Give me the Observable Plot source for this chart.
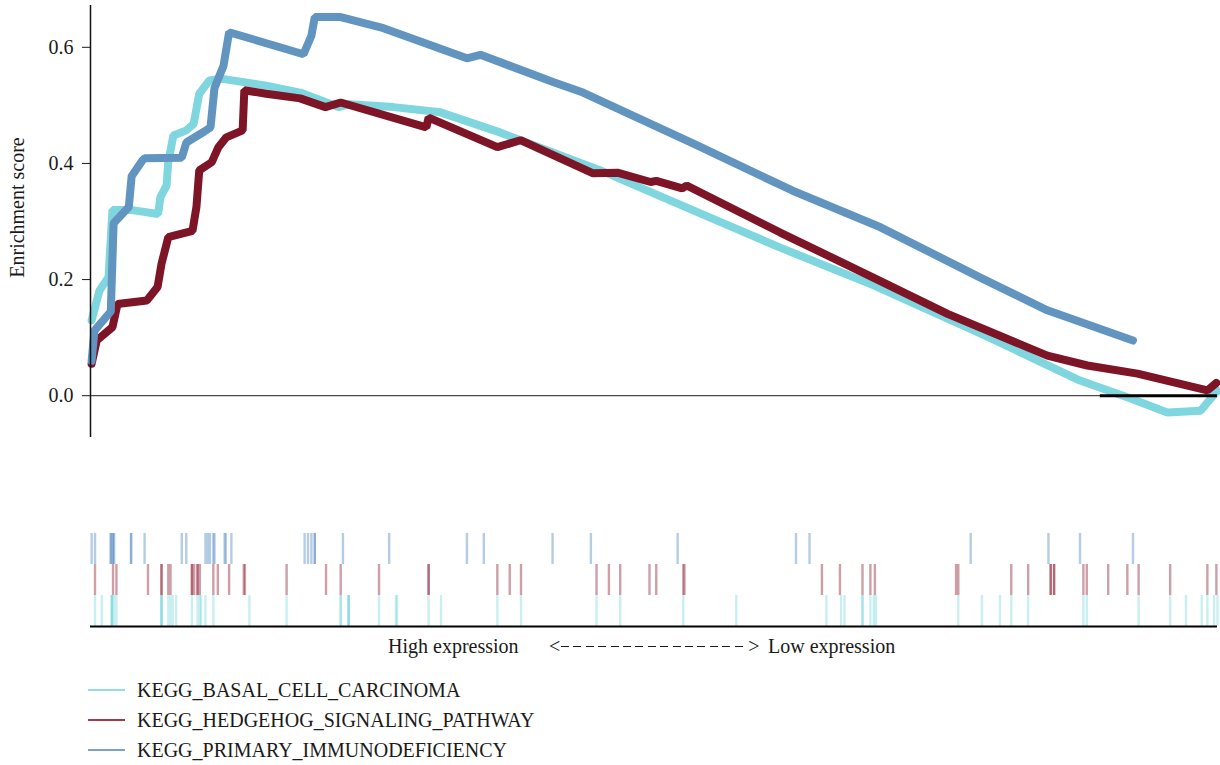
<!DOCTYPE html>
<html>
<head>
<meta charset="utf-8">
<script src="https://cdn.jsdelivr.net/npm/d3@7"></script>
<script src="https://cdn.jsdelivr.net/npm/@observablehq/plot@0.6"></script>
<style>
  body { margin: 0; background: #fff; }
  #chart { position: relative; width: 1220px; height: 765px; font-family: "Liberation Serif", "DejaVu Serif", serif; color: #1a1a1a; }
  #chart svg { position: absolute; left: 0; }
  .dir { position: absolute; top: 636px; font-size: 20px; line-height: 20px; white-space: nowrap; }
  .dir.arrow { display: flex; align-items: center; }
  .dashes { display: inline-block; width: 186px; height: 1.5px; margin: 1px 1px 0 1px;
            background: repeating-linear-gradient(to right, #1a1a1a 0 8px, transparent 8px 12.4px); }
  .legend { position: absolute; left: 88px; top: 675px; font-size: 20px; }
  .legend .row { height: 30px; display: flex; align-items: center; }
  .legend .swatch { width: 37px; height: 2px; margin-right: 12px; }
</style>
</head>
<body>
<div id="chart"></div>
<script>
// Gene sets, in drawing order (bottom rug row first)
const setNames = ["KEGG_BASAL_CELL_CARCINOMA", "KEGG_HEDGEHOG_SIGNALING_PATHWAY", "KEGG_PRIMARY_IMMUNODEFICIENCY"];
const lineColors = ["#80d6df", "#7e1526", "#6194bf"];
const legendColors = ["#93dde4", "#a3394c", "#7aa2c9"];
const rugColors = ["#4fcbd5", "#8c1b30", "#4f86c0"];

// Running enrichment score: rank in the ordered gene list (0-1000) and ES
const basalRank = [1, 8, 16, 19.5, 35.5, 60, 62, 67.5, 69, 73.5, 85, 91.5, 96.5, 105.5, 115.5, 156, 186, 220, 230, 269, 310.5, 364, 452.5, 541, 612, 695, 790, 878, 923, 955.5, 985, 1000];
const basalES   = [0.130, 0.181, 0.204, 0.320, 0.320, 0.313, 0.342, 0.362, 0.402, 0.448, 0.457, 0.468, 0.520, 0.543, 0.546, 0.534, 0.522, 0.497, 0.502, 0.497, 0.488, 0.453, 0.388, 0.314, 0.255, 0.190, 0.107, 0.026, -0.005, -0.029, -0.026, 0.009];

const hedgehogRank = [1, 5.5, 19.5, 24, 50, 59.5, 63, 69, 90.5, 94, 96.5, 107.5, 113.5, 120.5, 135, 136.5, 156, 186, 208.5, 222, 298, 300, 361, 381.5, 446, 467.5, 497, 502, 525, 529, 612, 695, 760.5, 849, 884.5, 929, 991, 999];
const hedgehogES   = [0.055, 0.095, 0.118, 0.158, 0.164, 0.187, 0.227, 0.273, 0.284, 0.325, 0.388, 0.402, 0.428, 0.445, 0.457, 0.526, 0.520, 0.512, 0.497, 0.505, 0.462, 0.479, 0.428, 0.440, 0.383, 0.384, 0.368, 0.370, 0.357, 0.362, 0.281, 0.203, 0.141, 0.069, 0.052, 0.038, 0.009, 0.022];

const immunoRank = [1, 3.5, 18, 20.5, 34, 36.5, 46, 48, 81, 85, 101, 106.5, 110, 118, 123, 189, 196, 199, 222, 260, 334, 346, 411, 437, 535, 623, 701, 790, 849, 925];
const immunoES   = [0.060, 0.112, 0.145, 0.297, 0.325, 0.378, 0.405, 0.409, 0.410, 0.436, 0.455, 0.462, 0.530, 0.568, 0.626, 0.588, 0.620, 0.652, 0.652, 0.633, 0.581, 0.587, 0.540, 0.522, 0.434, 0.353, 0.290, 0.203, 0.147, 0.095];

// Ranks of gene-set members in the ordered list (repeats = several members at that rank)
const basalHits = [4, 10, 19, 19, 19, 21, 23, 63, 63, 63, 69, 71, 73, 76, 90, 95, 97, 98, 102, 109, 141, 174, 222, 222, 229, 229, 229, 256, 271, 272, 300, 311, 361, 382, 449, 470, 526, 573, 653, 666, 669, 685, 685, 692, 695, 697, 770, 791, 807, 817, 832, 881, 884, 930, 958, 972, 986, 991, 997, 1000];
const hedgehogHits = [4, 20, 23, 51, 63, 63, 69, 71, 90, 90, 92, 95, 95, 97, 109, 113, 123, 136, 137, 174, 209, 222, 256, 300, 300, 361, 372, 382, 449, 460, 470, 496, 502, 526, 527, 649, 665, 685, 692, 696, 768, 770, 817, 832, 852, 852, 855, 855, 881, 884, 903, 920, 930, 958, 991, 999];
const immunoHits = [1, 4, 18, 18, 20, 20, 21, 36, 36, 48, 81, 85, 102, 104, 106, 109, 110, 119, 120, 125, 190, 193, 196, 199, 199, 224, 265, 334, 349, 410, 444, 521, 626, 638, 781, 850, 878, 925];

// Span of the ranked list marked on the zero line
const zeroSpan = [896, 1000];

const rankDomain = [0, 1000];
const yTicks = [0, 0.2, 0.4, 0.6];

const curves = [
  [basalRank, basalES], [hedgehogRank, hedgehogES], [immunoRank, immunoES]
].flatMap(([r, e], i) => r.map((rank, j) => ({set: setNames[i], rank, es: e[j]})));

const hitSets = [basalHits, hedgehogHits, immunoHits];

const font = '"Liberation Serif", "DejaVu Serif", serif';
const chart = document.getElementById("chart");

const esPlot = Plot.plot({
  width: 1220, height: 445,
  marginLeft: 90, marginRight: 3, marginTop: 5, marginBottom: 8,
  style: {fontFamily: font, fontSize: "20px", color: "#1a1a1a", background: "transparent", overflow: "visible"},
  x: {domain: rankDomain, axis: null},
  y: {domain: [-0.072, 0.672], axis: null},
  color: {domain: setNames, range: lineColors},
  marks: [
    Plot.ruleY([0], {stroke: "#4a4a4a", strokeWidth: 1.2}),
    Plot.lineY(curves, {x: "rank", y: "es", z: "set", stroke: "set", strokeWidth: 8, strokeLinejoin: "miter"}),
    Plot.ruleY([0], {x1: zeroSpan[0], x2: zeroSpan[1], stroke: "#000", strokeWidth: 3}),
    Plot.ruleX([rankDomain[0]], {stroke: "#111", strokeWidth: 1.5}),
    Plot.axisY({ticks: yTicks, tickFormat: d3.format(".1f"), tickSize: 8, tickPadding: 9, label: null}),
    Plot.text(["Enrichment score"], {frameAnchor: "left", textAnchor: "middle", rotate: -90, dx: -73, dy: -14, fontSize: 20})
  ]
});
esPlot.style.top = "0px";
chart.appendChild(esPlot);

// Hit rug: one row per gene set, bottom-up in set order
const rugPlot = Plot.plot({
  width: 1220, height: 185,
  marginLeft: 90, marginRight: 3, marginTop: 88, marginBottom: 4,
  style: {background: "transparent"},
  x: {domain: rankDomain, axis: null},
  y: {domain: [0, setNames.length], axis: null},
  marks: [
    ...hitSets.map((hits, i) =>
      Plot.ruleX(hits, {x: d => d, y1: i, y2: i + 1, stroke: rugColors[i], strokeOpacity: i === 0 ? 0.3 : 0.42, strokeWidth: 2.4})),
    Plot.ruleY([0], {stroke: "#000", strokeWidth: 2})
  ]
});
rugPlot.style.top = "445px";
chart.appendChild(rugPlot);

// Direction of the ranked list
function dirLabel(left, build) {
  const d = document.createElement("div");
  d.className = "dir";
  d.style.left = left + "px";
  build(d);
  chart.appendChild(d);
  return d;
}
dirLabel(388, d => d.textContent = "High expression");
dirLabel(549, d => {
  d.classList.add("arrow");
  const lt = document.createElement("span"); lt.textContent = "<";
  const dash = document.createElement("span"); dash.className = "dashes";
  const gt = document.createElement("span"); gt.textContent = ">";
  d.append(lt, dash, gt);
});
dirLabel(768, d => d.textContent = "Low expression");

// Legend
const legend = document.createElement("div");
legend.className = "legend";
setNames.forEach((name, i) => {
  const row = document.createElement("div");
  row.className = "row";
  const sw = document.createElement("span");
  sw.className = "swatch";
  sw.style.background = legendColors[i];
  const label = document.createElement("span");
  label.textContent = name;
  row.append(sw, label);
  legend.appendChild(row);
});
chart.appendChild(legend);
</script>
</body>
</html>
